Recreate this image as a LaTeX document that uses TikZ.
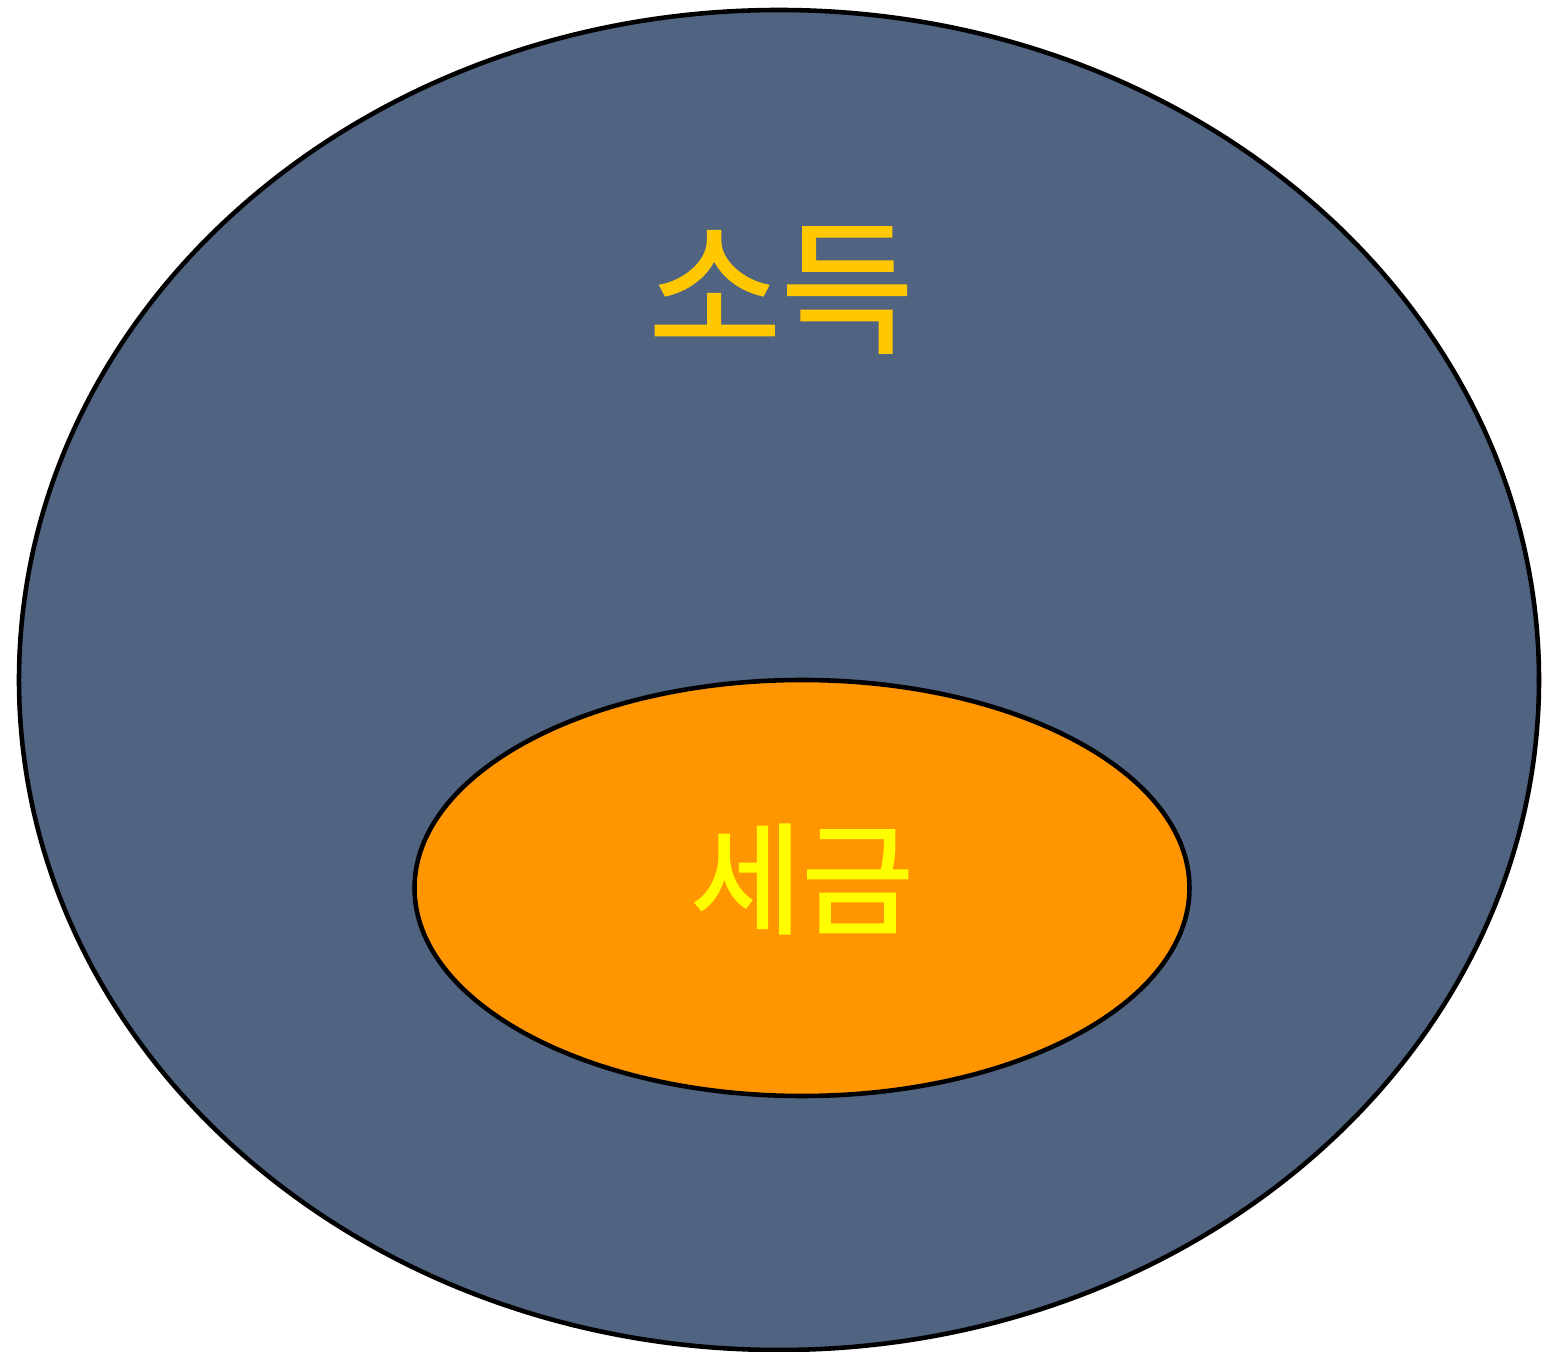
\documentclass[tikz,border=0pt]{standalone}
\usepackage{fontspec}
\usepackage{xcolor}
\usepackage{tikz}
\usetikzlibrary{shapes.geometric}
\newfontfamily\krfont[AutoFakeBold=1.4]{Noto Sans CJK KR}
\definecolor{slateblue}{HTML}{506482}
\definecolor{taxorange}{HTML}{FF9500}
\definecolor{incomegold}{HTML}{FFC800}
\definecolor{taxyellow}{HTML}{FFFF00}

\begin{document}
\begin{tikzpicture}
    \useasboundingbox (0,0) rectangle (31.16,27.04);
    % outer set
    \node[ellipse, draw=black, line width=2.6pt, fill=slateblue,
          minimum width=30.4cm, minimum height=26.8cm, inner sep=0pt]
          (income) at (15.58,13.44) {};
    \node[text=incomegold, font=\krfont\bfseries\fontsize{82}{90}\selectfont]
          (incomelabel) at (15.62,21.24) {소득};
    % inner set
    \node[ellipse, draw=black, line width=2.6pt, fill=taxorange,
          minimum width=15.5cm, minimum height=8.32cm, inner sep=0pt]
          (tax) at (16.04,9.28) {};
    \node[text=taxyellow, font=\krfont\bfseries\fontsize{69}{76}\selectfont]
          (taxlabel) at (16.04,9.46) {세금};
  \end{tikzpicture}
\end{document}
